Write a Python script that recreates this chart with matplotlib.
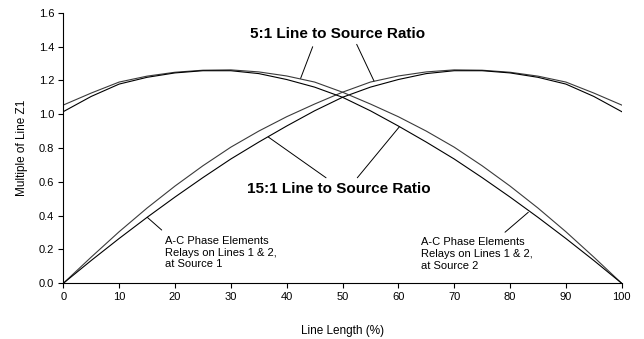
import matplotlib
matplotlib.use("Agg")
import matplotlib.pyplot as plt

plt.rcParams["font.family"] = ["Liberation Sans", "DejaVu Sans"]

# Line length (%) where the apparent impedance was evaluated
line_length = [0, 5, 10, 15, 20, 25, 30, 35, 40, 45, 50,
               55, 60, 65, 70, 75, 80, 85, 90, 95, 100]

# Relays at Source 1 (rising from 0)
src1_5to1 = [0.0, 0.155, 0.305, 0.445, 0.575, 0.695, 0.805, 0.90, 0.985, 1.06, 1.13,
             1.19, 1.226, 1.25, 1.262, 1.26, 1.248, 1.225, 1.19, 1.125, 1.054]
src1_15to1 = [0.0, 0.135, 0.265, 0.39, 0.51, 0.625, 0.735, 0.835, 0.93, 1.02, 1.10,
              1.16, 1.205, 1.24, 1.257, 1.257, 1.244, 1.218, 1.178, 1.105, 1.015]

# Relays at Source 2 (falling to 0)
src2_5to1 = [1.054, 1.125, 1.19, 1.225, 1.248, 1.26, 1.262, 1.25, 1.226, 1.19, 1.13,
             1.06, 0.985, 0.90, 0.805, 0.695, 0.575, 0.445, 0.305, 0.155, 0.0]
src2_15to1 = [1.015, 1.105, 1.178, 1.218, 1.244, 1.257, 1.257, 1.24, 1.205, 1.16, 1.10,
              1.02, 0.93, 0.835, 0.735, 0.625, 0.51, 0.39, 0.265, 0.135, 0.0]

x_ticks = list(range(0, 101, 10))
y_ticks = [0.0, 0.2, 0.4, 0.6, 0.8, 1.0, 1.2, 1.4, 1.6]

fig = plt.figure(figsize=(6.44, 3.39), dpi=100)
ax = fig.add_axes([0.0983, 0.1643, 0.8671, 0.7982])

ax.plot(line_length, src1_5to1, color="#3a3a3a", lw=0.8)
ax.plot(line_length, src1_15to1, color="black", lw=0.8)
ax.plot(line_length, src2_5to1, color="#3a3a3a", lw=0.8)
ax.plot(line_length, src2_15to1, color="black", lw=0.8)

ax.set_xlim(0, 100)
ax.set_ylim(0, 1.6)
ax.set_xticks(x_ticks)
ax.set_yticks(y_ticks)
ax.set_yticklabels([f"{v:.1f}" for v in y_ticks])
ax.tick_params(direction="out", length=3.5, width=0.8, labelsize=8, pad=3)
for side in ["top", "right"]:
    ax.spines[side].set_visible(False)
for side in ["left", "bottom"]:
    ax.spines[side].set_linewidth(0.8)

ax.set_xlabel("Line Length (%)", fontsize=8.5, labelpad=16)
ax.set_ylabel("Multiple of Line Z1", fontsize=8.5, labelpad=8)

lead = dict(arrowstyle="-", color="black", lw=0.7, shrinkA=0, shrinkB=0)

ax.text(49.1, 1.472, "5:1 Line to Source Ratio", fontsize=11, fontweight="bold",
        ha="center", va="center")
ax.annotate("", xy=(42.5, 1.212), xytext=(44.66, 1.399), arrowprops=lead)
ax.annotate("", xy=(55.64, 1.196), xytext=(52.54, 1.413), arrowprops=lead)

ax.text(49.25, 0.558, "15:1 Line to Source Ratio", fontsize=11, fontweight="bold",
        ha="center", va="center")
ax.annotate("", xy=(36.71, 0.865), xytext=(47.05, 0.624), arrowprops=lead)
ax.annotate("", xy=(60.17, 0.925), xytext=(52.65, 0.624), arrowprops=lead)

ax.text(18.2, 0.182, "A-C Phase Elements\nRelays on Lines 1 & 2,\nat Source 1",
        fontsize=8, ha="left", va="center", linespacing=1.2)
ax.annotate("", xy=(15.04, 0.39), xytext=(17.62, 0.315), arrowprops=lead)

ax.text(64.06, 0.173, "A-C Phase Elements\nRelays on Lines 1 & 2,\nat Source 2",
        fontsize=8, ha="left", va="center", linespacing=1.2)
ax.annotate("", xy=(83.27, 0.42), xytext=(79.10, 0.302), arrowprops=lead)

plt.savefig("out.png", dpi=100)
